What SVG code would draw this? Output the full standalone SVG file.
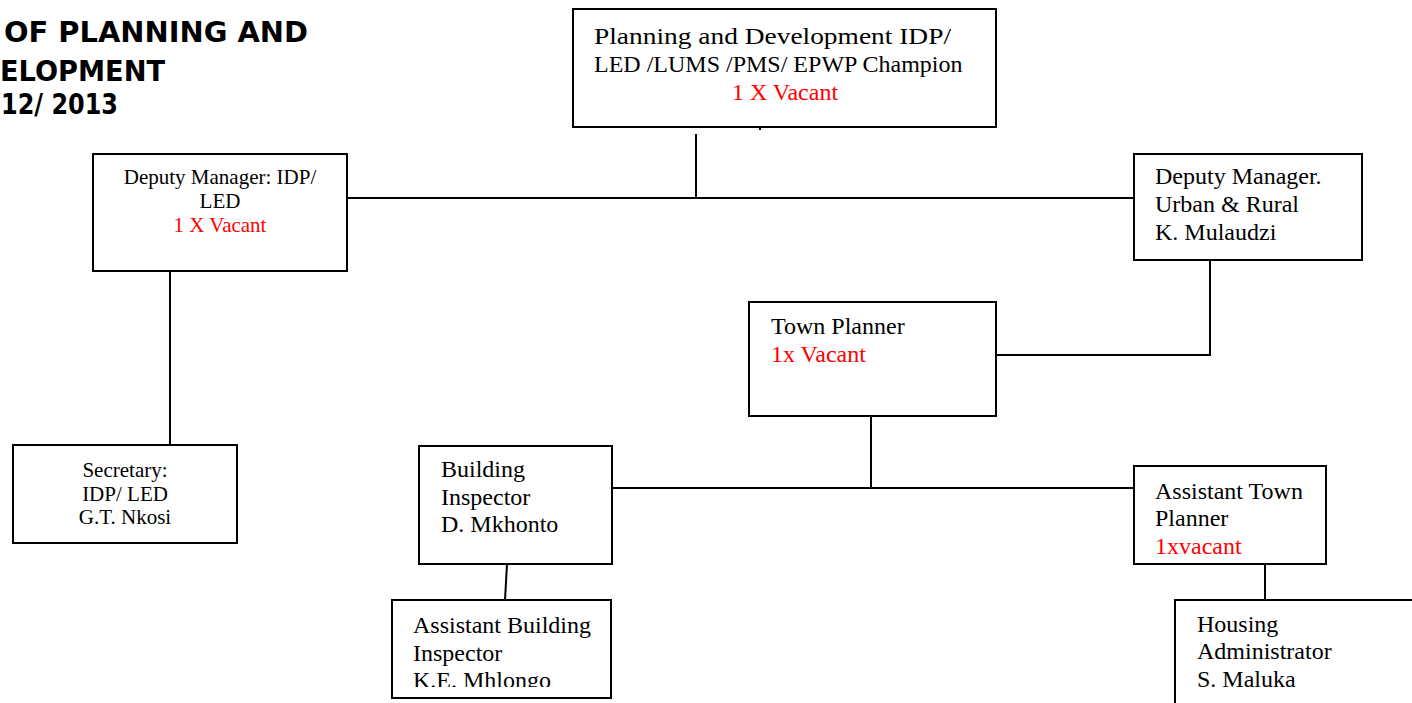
<svg xmlns="http://www.w3.org/2000/svg" width="1412" height="703" viewBox="0 0 1412 703">
  <style>
    .box { fill: #ffffff; stroke: #000000; stroke-width: 2; }
    .wire { fill: none; stroke: #000000; stroke-width: 2; }
    .t24 { font-family: "Liberation Serif", "Times New Roman", serif; font-size: 24px; fill: #000000; }
    .t21 { font-family: "Liberation Serif", "Times New Roman", serif; font-size: 21px; fill: #000000; }
    .red { fill: #ff0000; }
    .mid { text-anchor: middle; }
    .title { font-family: "DejaVu Sans", Verdana, sans-serif; font-weight: bold; font-size: 28px; fill: #000000; }
  </style>
  <defs>
    <clipPath id="clipAsstBuilding">
      <rect x="392" y="600" width="220" height="87"/>
    </clipPath>
  </defs>
  <rect width="1412" height="703" fill="#ffffff"/>

  <!-- heading -->
  <g id="heading">
    <text class="title" x="4" y="42" textLength="304" lengthAdjust="spacingAndGlyphs">OF PLANNING AND</text>
    <text class="title" x="0" y="81" textLength="165" lengthAdjust="spacingAndGlyphs">ELOPMENT</text>
    <text class="title" x="1" y="114" textLength="117" lengthAdjust="spacingAndGlyphs">12/ 2013</text>
  </g>

  <!-- connectors -->
  <g id="connectors">
    <line class="wire" x1="696" y1="134" x2="696" y2="198"/>
    <line class="wire" x1="348" y1="198" x2="1134" y2="198"/>
    <line class="wire" x1="170" y1="271" x2="170" y2="445"/>
    <polyline class="wire" points="1210,260 1210,355 997,355"/>
    <line class="wire" x1="871" y1="416" x2="871" y2="488"/>
    <line class="wire" x1="612" y1="488" x2="1134" y2="488"/>
    <line class="wire" x1="507" y1="564" x2="505" y2="600"/>
    <line class="wire" x1="1265" y1="564" x2="1265" y2="600"/>
  </g>

  <g id="node-champion">
    <rect class="box" x="573" y="9" width="423" height="118"/>
    <rect x="759" y="128" width="2" height="2" fill="#000000"/>
    <text class="t24" x="594" y="44" textLength="357" lengthAdjust="spacingAndGlyphs">Planning and Development IDP/</text>
    <text class="t24" x="594" y="72">LED /LUMS /PMS/ EPWP Champion</text>
    <text class="t24 red mid" x="785" y="100">1 X Vacant</text>
  </g>

  <g id="node-deputy-idp">
    <rect class="box" x="93" y="154" width="254" height="117"/>
    <text class="t21 mid" x="220" y="184">Deputy Manager: IDP/</text>
    <text class="t21 mid" x="220" y="208">LED</text>
    <text class="t21 red mid" x="220" y="232">1 X Vacant</text>
  </g>

  <g id="node-deputy-urban">
    <rect class="box" x="1134" y="154" width="228" height="106"/>
    <text class="t24" x="1155" y="184">Deputy Manager.</text>
    <text class="t24" x="1155" y="212">Urban &amp; Rural</text>
    <text class="t24" x="1155" y="240">K. Mulaudzi</text>
  </g>

  <g id="node-secretary">
    <rect class="box" x="13" y="445" width="224" height="98"/>
    <text class="t21 mid" x="125" y="477">Secretary:</text>
    <text class="t21 mid" x="125" y="501">IDP/ LED</text>
    <text class="t21 mid" x="125" y="524">G.T. Nkosi</text>
  </g>

  <g id="node-town-planner">
    <rect class="box" x="749" y="302" width="247" height="114"/>
    <text class="t24" x="771" y="334">Town Planner</text>
    <text class="t24 red" x="771" y="362">1x Vacant</text>
  </g>

  <g id="node-building-inspector">
    <rect class="box" x="419" y="446" width="193" height="118"/>
    <text class="t24" x="441" y="477">Building</text>
    <text class="t24" x="441" y="505">Inspector</text>
    <text class="t24" x="441" y="532">D. Mkhonto</text>
  </g>

  <g id="node-assistant-town-planner">
    <rect class="box" x="1134" y="466" width="192" height="98"/>
    <text class="t24" x="1155" y="499">Assistant Town</text>
    <text class="t24" x="1155" y="526">Planner</text>
    <text class="t24 red" x="1155" y="554">1xvacant</text>
  </g>

  <g id="node-assistant-building-inspector">
    <rect class="box" x="392" y="600" width="219" height="98"/>
    <g clip-path="url(#clipAsstBuilding)">
      <text class="t24" x="413" y="633">Assistant Building</text>
      <text class="t24" x="413" y="661">Inspector</text>
      <text class="t24" x="413" y="688">K.E. Mhlongo</text>
    </g>
  </g>

  <g id="node-housing-administrator">
    <rect class="box" x="1175" y="600" width="260" height="130"/>
    <text class="t24" x="1197" y="632">Housing</text>
    <text class="t24" x="1197" y="659">Administrator</text>
    <text class="t24" x="1197" y="687">S. Maluka</text>
  </g>
</svg>
